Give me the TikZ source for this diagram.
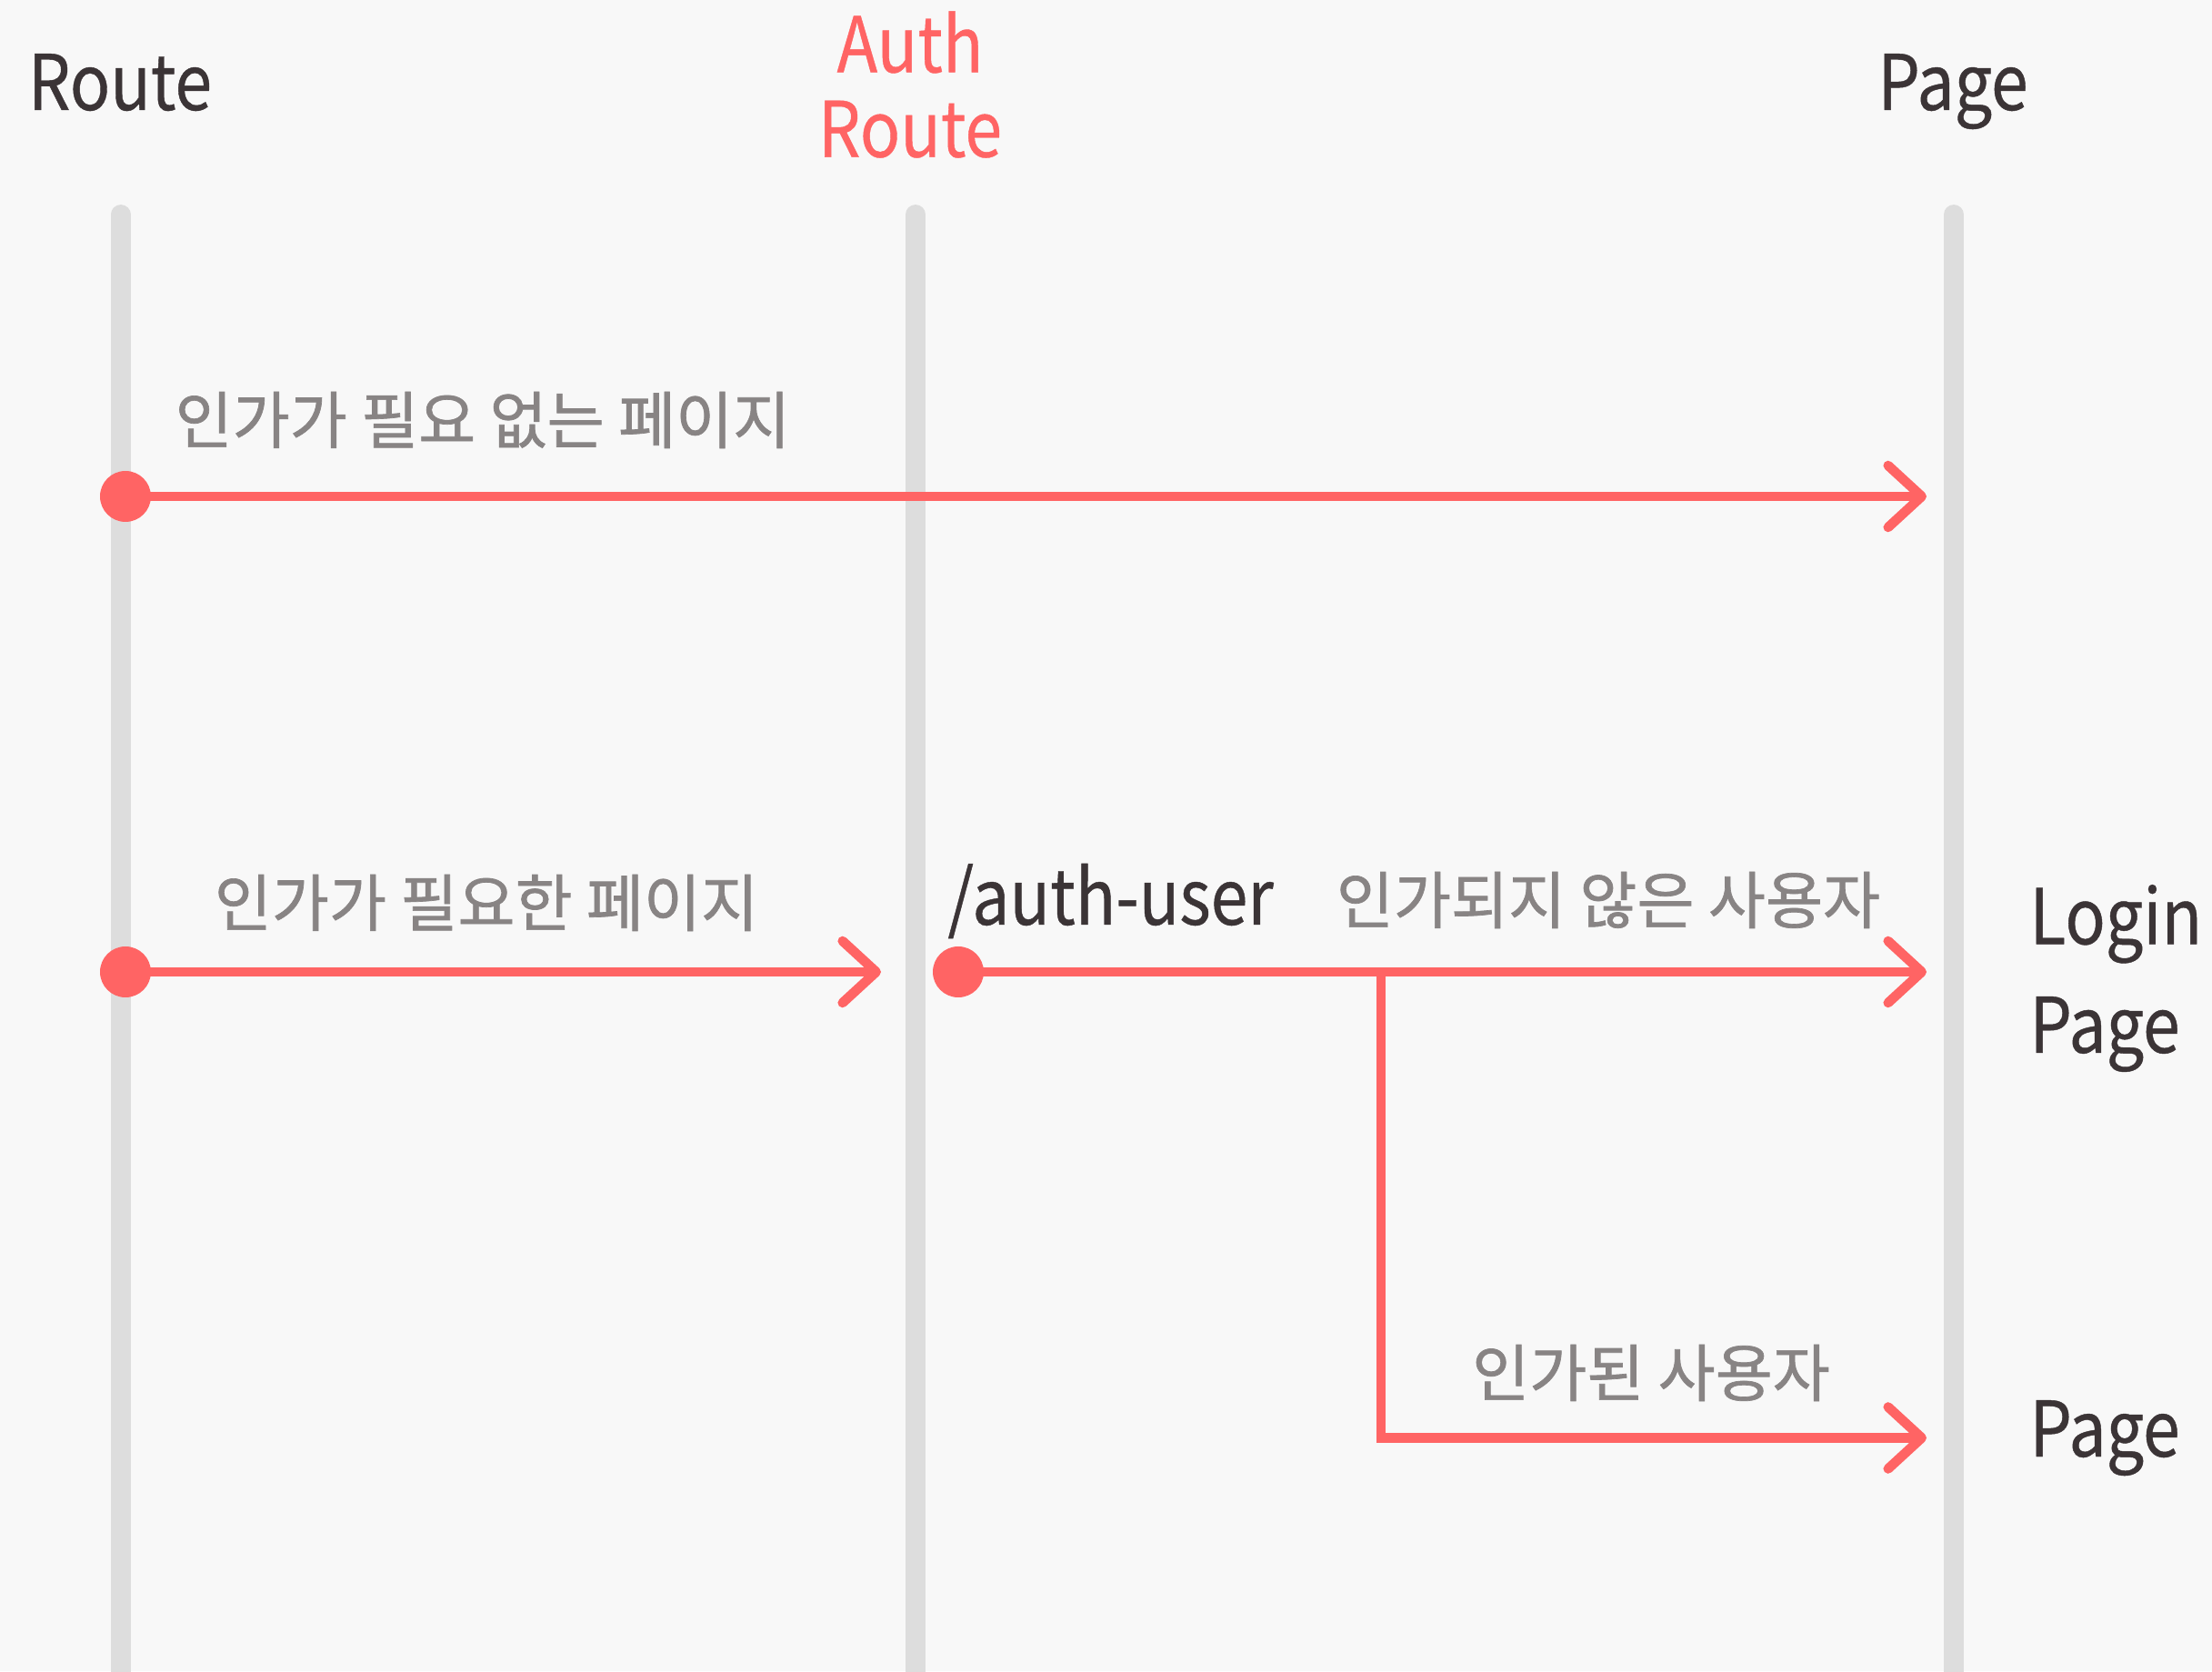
\documentclass[tikz,border=0pt]{standalone}
\usepackage{fontspec}
\setmainfont{Noto Sans CJK KR}
\newfontfamily\latinfont[FakeStretch=0.87,FakeBold=0.5]{Noto Sans CJK KR}
\newfontfamily\hangulfont[FakeBold=1]{Noto Sans CJK KR}
\usetikzlibrary{arrows.meta}
\definecolor{flow}{HTML}{FF6464}
\definecolor{life}{HTML}{DDDDDD}
\definecolor{bg}{HTML}{F8F8F8}
\definecolor{ink}{HTML}{3B3436}
\definecolor{note}{HTML}{888484}
\tikzset{
  lifeline/.style={draw=life,line width=6.2pt,line cap=round},
  call/.style={draw=flow,line width=3pt,-{Straight Barb[length=0.37cm,width=0.68cm,line cap=round,round]}},
  dot/.style={circle,fill=flow,inner sep=0pt,minimum size=0.56cm},
}
\begin{document}
\begin{tikzpicture}

        \fill[bg] (0,0) rectangle (24.33,18.38);
        \useasboundingbox (0,0) rectangle (24.33,18.38);

        \begin{scope}[every node/.style={font=\latinfont\fontsize{24}{26.5}\selectfont,text=ink}]
          \node (route) [anchor=base] at (1.32,17.17) {Route};
          \node[text=flow,align=center] (auth) at (10.01,17.45) {Auth\\Route};
          \node (page) [anchor=base] at (21.48,17.17) {Page};
          \node (slash) [anchor=base west] at (10.30,8.21) {/auth-user};
          \node (login) [anchor=west,align=left,font=\latinfont\fontsize{24}{34}\selectfont] at (22.20,7.62) {Login\\Page};
          \node (page2) [anchor=base west] at (22.20,2.36) {Page};
        \end{scope}

        \coordinate (route-top) at (1.327,16.02);
        \coordinate (route-bot) at (1.327,-0.4);
        \coordinate (auth-top)  at (10.07,16.02);
        \coordinate (auth-bot)  at (10.07,-0.4);
        \coordinate (page-top)  at (21.49,16.02);
        \coordinate (page-bot)  at (21.49,-0.4);

        \path[lifeline] (route-top) -- (route-bot);
        \path[lifeline] (auth-top) -- (auth-bot);
        \path[lifeline] (page-top) -- (page-bot);

        \coordinate (t1) at (21.19,12.92);
        \coordinate (t2) at (9.69,7.69);
        \coordinate (t3) at (21.19,7.69);
        \coordinate (br) at (15.19,7.69);
        \coordinate (t4) at (21.19,2.565);

        \path[call] (1.38,12.92) -- (t1);
        \path[call] (1.38,7.69) -- (t2);
        \path[call] (10.54,7.69) -- (t3);
        \path[call] (br) |- (t4);

        \begin{scope}[every node/.style={dot}]
          \node (d1) at (1.38,12.92) {};
          \node (d2) at (1.38,7.69)  {};
          \node (d3) at (10.54,7.69) {};
        \end{scope}

        \begin{scope}[every node/.style={font=\hangulfont\fontsize{19.5}{24}\selectfont,text=note}]
          \node (free)   at (5.31,13.76) {인가가 필요 없는 페이지};
          \node (need)   at (5.35,8.45)  {인가가 필요한 페이지};
          \node (denied) at (17.69,8.48) {인가되지 않은 사용자};
          \node (ok)     at (18.16,3.28) {인가된 사용자};
        \end{scope}

      \end{tikzpicture}
\end{document}
